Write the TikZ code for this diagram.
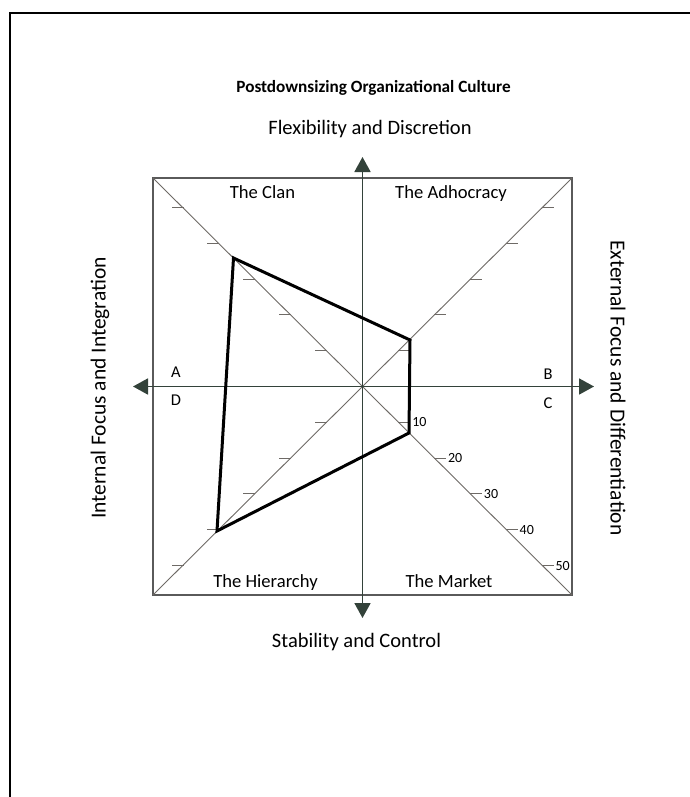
\documentclass[tikz,border=0pt]{standalone}
\usepackage{fontspec}
\setmainfont{Carlito}
\usetikzlibrary{arrows.meta,calc}
\definecolor{axiscol}{HTML}{33423A}
\definecolor{boxcol}{HTML}{5A5A5A}
\definecolor{diagcol}{HTML}{6E6A66}
\tikzset{
  axisline/.style={draw=axiscol,line width=1.8pt,-{Triangle[length=15pt,width=16pt]}},
  boxline/.style={draw=boxcol,line width=1.4pt},
  diagline/.style={draw=diagcol,line width=0.9pt},
  tickline/.style={draw=diagcol,line width=1pt},
  profile/.style={draw=black,line width=3pt,line join=miter},
  lbl/.style={inner sep=0pt,font=\fontsize{20.5}{23}\selectfont},
  letter/.style={inner sep=0pt,anchor=base,font=\fontsize{16.5}{18}\selectfont},
  quad/.style={inner sep=0pt,anchor=base,font=\fontsize{18.6}{21}\selectfont},
  ticklbl/.style={inner sep=0pt,anchor=west,xshift=1.5pt,font=\fontsize{14}{16}\selectfont},
}
\begin{document}
\begin{tikzpicture}[x=1pt,y=-1pt]
\useasboundingbox (0,0) rectangle (690,797);
\fill[white] (0,0) rectangle (690,797);
% frame
\draw[line width=2.6pt] (10,797) -- (10,13) -- (690,13);
% centre and square corners
\coordinate (O) at (362.5,386.5);
\coordinate (TL) at (153,178);
\coordinate (TR) at (572,178);
\coordinate (BR) at (572,595);
\coordinate (BL) at (153,595);
\draw[boxline] (TL) rectangle (BR);
\draw[diagline] (TL) -- (BR);
\draw[diagline] (TR) -- (BL);
% ticks
\foreach \k in {1,...,5}{
  \pgfmathsetmacro{\d}{35.8*\k}
  \draw[tickline] ($(O)+(-\d,-\d)$) -- ++(-12,0);
  \draw[tickline] ($(O)+(\d,-\d)$) -- ++(12,0);
  \draw[tickline] ($(O)+(-\d,\d)$) -- ++(-12,0);
  \draw[tickline] ($(O)+(\d,\d)$) -- ++(12,0) node[ticklbl] (t\k) {\k0};
}
% axes
\coordinate (L) at (133,386.5);
\coordinate (R) at (594,386.5);
\coordinate (T) at (362.5,157);
\coordinate (B) at (362.5,618);
\draw[axisline] (O) -- (L);
\draw[axisline] (O) -- (R);
\draw[axisline] (O) -- (T);
\draw[axisline] (O) -- (B);
% profile
\coordinate (pc) at (233.5,258);
\coordinate (pa) at (410,340);
\coordinate (pm) at (409,433);
\coordinate (ph) at (217,531);
\draw[profile] (pc) -- (pa) -- (pm) -- (ph) -- cycle;
% texts
\node[inner sep=0pt,font=\bfseries\fontsize{17.2}{19}\selectfont] (title) at (373.5,88) {Postdownsizing Organizational Culture};
\node[lbl] (flex) at (370,129) {Flexibility and Discretion};
\node[lbl] (stab) at (356.5,642) {Stability and Control};
\node[lbl,font=\fontsize{21.5}{24}\selectfont,rotate=90] (int) at (100,388) {Internal Focus and Integration};
\node[lbl,font=\fontsize{21.5}{24}\selectfont,rotate=-90] (ext) at (618,388) {External Focus and Differentiation};
\node[quad] (clan) at (262.5,198) {The Clan};
\node[quad] (adh) at (451,198) {The Adhocracy};
\node[quad] (hier) at (265.5,587) {The Hierarchy};
\node[quad] (mkt) at (449,587) {The Market};
\node[letter] (A) at (176,377) {A};
\node[letter] (D) at (176,405.5) {D};
\node[letter] (Bl) at (548,379) {B};
\node[letter] (C) at (548,408) {C};
\end{tikzpicture}
\end{document}
